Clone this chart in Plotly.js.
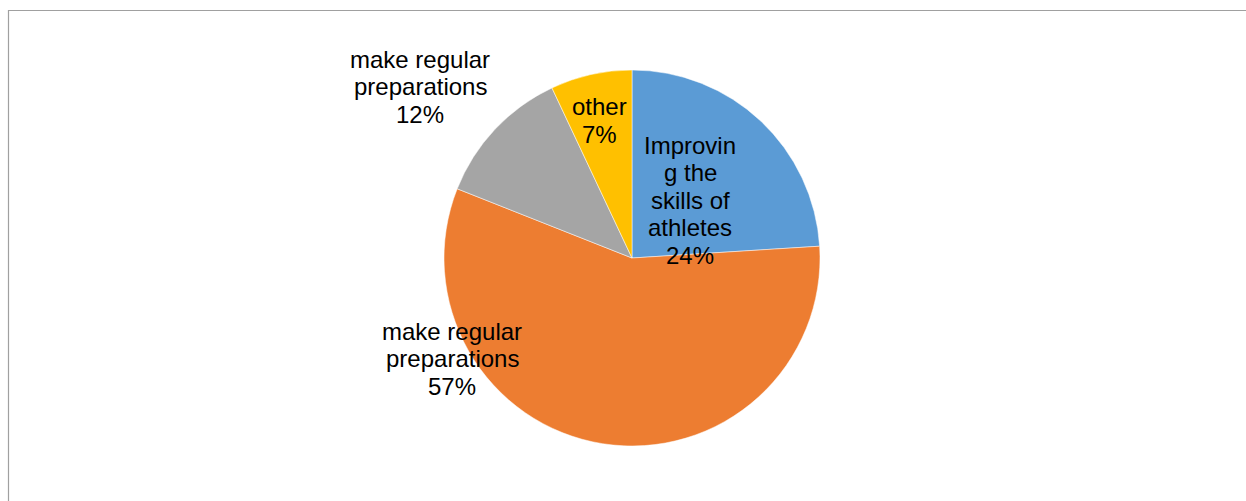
<!DOCTYPE html>
<html>
<head>
<meta charset="utf-8">
<script src="https://cdn.plot.ly/plotly-3.0.1.min.js"></script>
<style>
  html, body { margin: 0; padding: 0; background: #fff; }
  #chart { width: 1246px; height: 501px; }
</style>
</head>
<body>
<div id="chart"></div>
<script>
// ---- data ----
var sliceIds = ["improving", "regular57", "regular12", "other"];
var sliceValues = [24, 57, 12, 7];
var sliceColors = ["#5B9BD5", "#ED7D31", "#A5A5A5", "#FFC000"];
var labelLines = [
  ["Improvin", "g the", "skills of", "athletes"],
  ["make regular", "preparations"],
  ["make regular", "preparations"],
  ["other"]
];

// ---- layout helpers (pixel placement of label blocks) ----
var W = 1246, H = 501;
var labelAnchors = [
  {x: 690, y: 145},
  {x: 452, y: 331},
  {x: 420, y: 59},
  {x: 599, y: 107}
];
var lineStep = 27.6;
var total = sliceValues.reduce(function (a, b) { return a + b; }, 0);

var annotations = [];
sliceIds.forEach(function (id, i) {
  var lines = labelLines[i].concat([Math.round(sliceValues[i] / total * 100) + "%"]);
  lines.forEach(function (t, k) {
    annotations.push({
      xref: "paper", yref: "paper",
      x: labelAnchors[i].x / W,
      y: 1 - (labelAnchors[i].y + k * lineStep) / H,
      xanchor: "center", yanchor: "middle",
      text: t, showarrow: false,
      font: {family: "Liberation Sans, Arial, sans-serif", size: 24, color: "#000"}
    });
  });
});

var cx = 632, cy = 258, r = 188;
var trace = {
  type: "pie",
  labels: sliceIds,
  values: sliceValues,
  sort: false,
  direction: "clockwise",
  rotation: 0,
  textinfo: "none",
  hoverinfo: "label+percent",
  marker: {colors: sliceColors, line: {color: "#ffffff", width: 0.5}},
  domain: {x: [(cx - r) / W, (cx + r) / W], y: [1 - (cy + r) / H, 1 - (cy - r) / H]}
};

var layout = {
  width: W, height: H,
  margin: {l: 0, r: 0, t: 0, b: 0},
  paper_bgcolor: "#ffffff",
  showlegend: false,
  annotations: annotations,
  shapes: [{
    type: "rect", xref: "paper", yref: "paper",
    x0: 8.5 / W, x1: 1.02, y0: -0.05, y1: 1 - 10.5 / H,
    line: {color: "#A0A0A0", width: 1.2}, fillcolor: "rgba(0,0,0,0)"
  }]
};

Plotly.newPlot("chart", [trace], layout, {displayModeBar: false, staticPlot: true});
</script>
</body>
</html>
